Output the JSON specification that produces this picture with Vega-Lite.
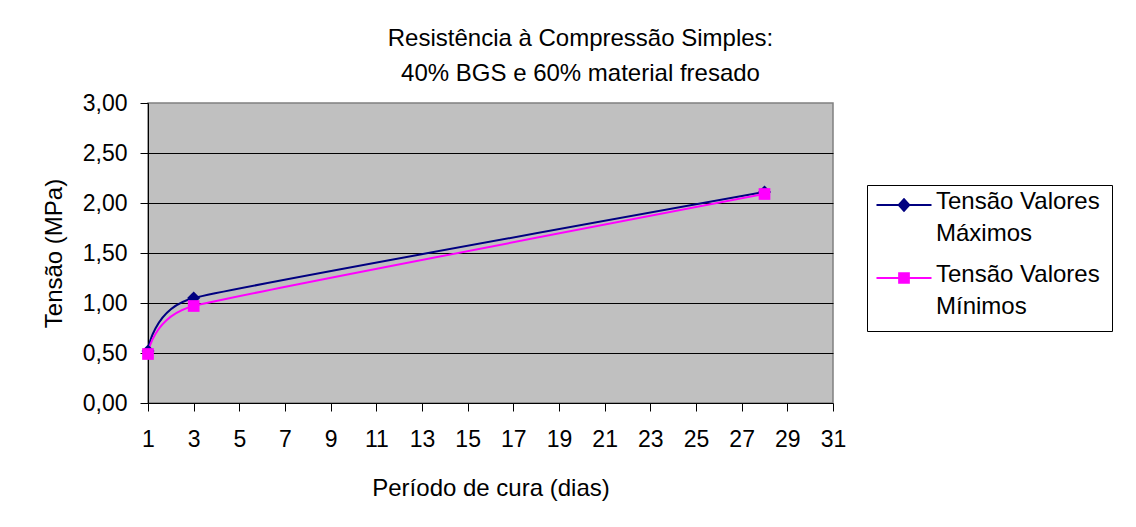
{
  "$schema": "https://vega.github.io/schema/vega-lite/v6.json",
  "width": 685,
  "height": 300,
  "autosize": {"type": "none"},
  "padding": {"left": 148, "top": 103, "right": 303, "bottom": 124},
  "background": "white",
  "title": {
    "text": ["Resistência à Compressão Simples:", "40% BGS e 60% material fresado"],
    "font": "Liberation Sans",
    "fontSize": 24,
    "fontWeight": "normal",
    "color": "black",
    "lineHeight": 35,
    "anchor": "middle",
    "dx": 90,
    "offset": 6
  },
  "data": {
    "values": [
      {"dias": 1, "tensao": 0.52, "serie": "Tensão Valores Máximos"},
      {"dias": 3, "tensao": 1.05, "serie": "Tensão Valores Máximos"},
      {"dias": 28, "tensao": 2.11, "serie": "Tensão Valores Máximos"},
      {"dias": 1, "tensao": 0.49, "serie": "Tensão Valores Mínimos"},
      {"dias": 3, "tensao": 0.97, "serie": "Tensão Valores Mínimos"},
      {"dias": 28, "tensao": 2.09, "serie": "Tensão Valores Mínimos"}
    ]
  },
  "encoding": {
    "x": {
      "field": "dias",
      "type": "quantitative",
      "title": "Período de cura (dias)",
      "scale": {"domain": [1, 31], "nice": false, "zero": false},
      "axis": {
        "values": [1, 3, 5, 7, 9, 11, 13, 15, 17, 19, 21, 23, 25, 27, 29, 31],
        "format": "d",
        "grid": false,
        "tickSize": 8,
        "labelPadding": 17,
        "titlePadding": 25
      }
    },
    "y": {
      "field": "tensao",
      "type": "quantitative",
      "title": "Tensão (MPa)",
      "scale": {"domain": [0, 3], "nice": false},
      "axis": {
        "values": [0, 0.5, 1, 1.5, 2, 2.5, 3],
        "labelExpr": "replace(format(datum.value, '.2f'), '.', ',')",
        "grid": true,
        "gridColor": {"condition": {"test": "datum.value >= 3 || datum.value <= 0", "value": "transparent"}, "value": "black"},
        "gridWidth": 1,
        "tickSize": 8,
        "labelPadding": 13,
        "titlePadding": 16
      }
    }
  },
  "layer": [
    {
      "transform": [{"filter": "datum.serie == 'Tensão Valores Máximos'"}],
      "mark": {"type": "line", "interpolate": "cardinal", "tension": 0.6, "strokeWidth": 2, "color": "#000080"}
    },
    {
      "transform": [{"filter": "datum.serie == 'Tensão Valores Mínimos'"}],
      "mark": {"type": "line", "interpolate": "cardinal", "tension": 0.6, "strokeWidth": 2, "color": "#FF00FF"}
    },
    {
      "transform": [{"filter": "datum.serie == 'Tensão Valores Máximos'"}],
      "mark": {"type": "point", "shape": "diamond", "filled": true, "size": 170, "opacity": 1, "color": "#000080"}
    },
    {
      "transform": [{"filter": "datum.serie == 'Tensão Valores Mínimos'"}],
      "mark": {"type": "point", "shape": "square", "filled": true, "size": 137, "opacity": 1, "color": "#FF00FF"}
    },
    {
      "mark": {"type": "point", "filled": true, "opacity": 0, "size": 196, "strokeWidth": 0},
      "encoding": {
        "color": {
          "field": "serie",
          "type": "nominal",
          "scale": {"domain": ["Tensão Valores Máximos", "Tensão Valores Mínimos"], "range": ["#000080", "#FF00FF"]},
          "legend": {
            "title": null,
            "orient": "none",
            "legendX": 719,
            "legendY": 82,
            "labelExpr": "['Tensão Valores', datum.label == 'Tensão Valores Máximos' ? 'Máximos' : 'Mínimos']"
          }
        },
        "shape": {
          "field": "serie",
          "type": "nominal",
          "scale": {
            "domain": ["Tensão Valores Máximos", "Tensão Valores Mínimos"],
            "range": [
              "M-3.93,-0.714H3.93V-0.428H-3.93ZM-0.95,-0.571L0,-1.621L0.95,-0.571L0,0.479Z",
              "M-3.93,-0.714H3.93V-0.428H-3.93ZM-0.836,-1.407H0.836V0.265H-0.836Z"
            ]
          },
          "legend": {
            "title": null,
            "orient": "none",
            "legendX": 719,
            "legendY": 82,
            "labelExpr": "['Tensão Valores', datum.label == 'Tensão Valores Máximos' ? 'Máximos' : 'Mínimos']"
          }
        }
      }
    }
  ],
  "config": {
    "font": "Liberation Sans",
    "view": {"fill": "#C0C0C0", "stroke": "#808080", "strokeWidth": 1.5},
    "axis": {
      "labelFont": "Liberation Sans",
      "labelFontSize": 23,
      "labelColor": "black",
      "titleFont": "Liberation Sans",
      "titleFontSize": 24,
      "titleFontWeight": "normal",
      "titleColor": "black",
      "tickColor": "black",
      "tickWidth": 1,
      "domainColor": "black",
      "domainWidth": 1,
      "labelOverlap": false,
      "labelFlush": false
    },
    "legend": {
      "padding": 12,
      "strokeColor": "black",
      "fillColor": "white",
      "labelFont": "Liberation Sans",
      "labelFontSize": 24,
      "labelColor": "black",
      "labelLimit": 0,
      "labelBaseline": "alphabetic",
      "symbolOffset": 13,
      "labelOffset": 20,
      "rowPadding": 17,
      "symbolOpacity": 1,
      "symbolStrokeWidth": 0,
      "symbolSize": 196
    },
    "style": {
      "guide-label": {"lineHeight": 32}
    }
  }
}
